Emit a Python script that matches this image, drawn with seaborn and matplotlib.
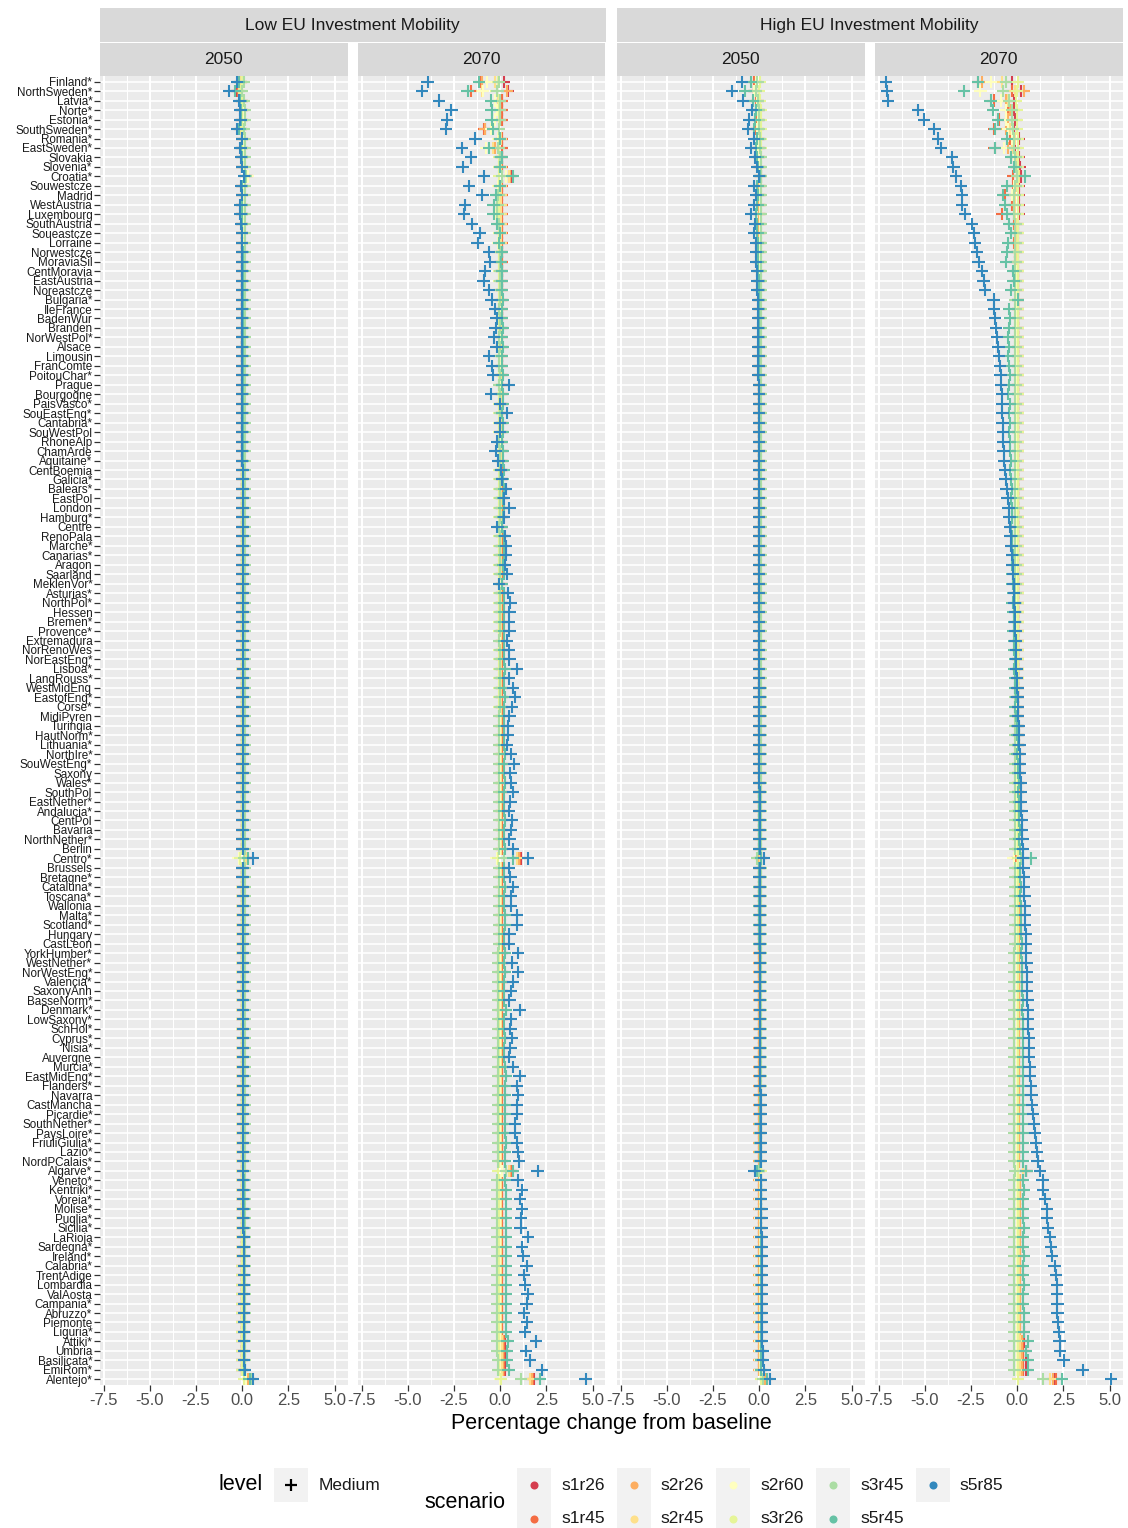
import numpy as np
import pandas as pd
import matplotlib
matplotlib.use("Agg")
import matplotlib.pyplot as plt
import seaborn as sns
from matplotlib.patches import Rectangle
from matplotlib.lines import Line2D

plt.rcParams['font.family'] = ['Liberation Sans', 'DejaVu Sans']

# ---------------- data ----------------
REGIONS = [
    "Finland*", "NorthSweden*", "Latvia*", "Norte*", "Estonia*", "SouthSweden*", "Romania*", "EastSweden*",
    "Slovakia", "Slovenia*", "Croatia*", "Souwestcze", "Madrid", "WestAustria", "Luxembourg", "SouthAustria",
    "Soueastcze", "Lorraine", "Norwestcze", "MoraviaSil", "CentMoravia", "EastAustria", "Noreastcze",
    "Bulgaria*", "IleFrance", "BadenWur", "Branden", "NorWestPol*", "Alsace", "Limousin", "FranComte",
    "PoitouChar*", "Prague", "Bourgogne", "PaisVasco*", "SouEastEng*", "Cantabria*", "SouWestPol", "RhoneAlp",
    "ChamArde", "Aquitaine*", "CentBoemia", "Galicia*", "Balears*", "EastPol", "London", "Hamburg*", "Centre",
    "RenoPala", "Marche*", "Canarias*", "Aragon", "Saarland", "MeklenVor*", "Asturias*", "NorthPol*", "Hessen",
    "Bremen*", "Provence*", "Extremadura", "NorRenoWes", "NorEastEng*", "Lisboa*", "LangRouss*", "WestMidEng",
    "EastofEng*", "Corse*", "MidiPyren", "Turingia", "HautNorm*", "Lithuania*", "NorthIre*", "SouWestEng*",
    "Saxony", "Wales*", "SouthPol", "EastNether*", "Andalucia*", "CentPol", "Bavaria", "NorthNether*", "Berlin",
    "Centro*", "Brussels", "Bretagne*", "Cataluna*", "Toscana*", "Wallonia", "Malta*", "Scotland*", "Hungary",
    "CastLeon", "YorkHumber*", "WestNether*", "NorWestEng*", "Valencia*", "SaxonyAnh", "BasseNorm*",
    "Denmark*", "LowSaxony*", "SchHol*", "Cyprus*", "Nisia*", "Auvergne", "Murcia*", "EastMidEng*",
    "Flanders*", "Navarra", "CastMancha", "Picardie*", "SouthNether*", "PaysLoire*", "FriuliGiulia*", "Lazio*",
    "NordPCalais*", "Algarve*", "Veneto*", "Kentriki*", "Voreia*", "Molise*", "Puglia*", "Sicilia*", "LaRioja",
    "Sardegna*", "Ireland*", "Calabria*", "TrentAdige", "Lombardia", "ValAosta", "Campania*", "Abruzzo*",
    "Piemonte", "Liguria*", "Attiki*", "Umbria", "Basilicata*", "EmiRom*", "Alentejo*",
]

SCENARIOS = ["s1r26", "s1r45", "s2r26", "s2r45", "s2r60", "s3r26", "s3r45", "s5r45", "s5r85"]
COLORS = ["#D53E4F", "#F46D43", "#FDAE61", "#FEE08B", "#FFFFBF", "#E6F598", "#ABDDA4", "#66C2A5", "#3288BD"]
MOBILITY = ["Low EU Investment Mobility", "High EU Investment Mobility"]
YEARS = ["2050", "2070"]
X_TICKS = [-7.5, -5.0, -2.5, 0.0, 2.5, 5.0]

# values: percentage change from baseline, one entry per region (rows of 23)
# ---- Low mobility, 2050 ----
L50_s1r26 = """
-.1 -.3 0 0 0 -.1 0 0 0 0 .2 0 0 0 0 0 0 0 0 0 0 0 0
0 0 0 0 0 0 0 0 0 0 0 0 0 0 0 0 0 0 0 0 0 0 0
0 0 0 0 0 0 0 0 0 0 0 0 0 0 0 0 0 0 0 0 0 0 0
0 0 0 0 0 0 0 0 0 0 0 0 0 .2 0 0 0 0 0 0 0 0 0
0 0 0 0 0 0 0 0 0 0 0 0 0 0 0 0 0 0 0 0 0 0 0
0 0 0 0 0 0 0 0 0 0 0 0 0 0 0 0 0 0 0 0 0 0 .3
"""
L50_s1r45 = """
-.1 -.25 0 0 0 -.1 0 0 0 0 .25 0 0 0 0 0 0 0 0 0 0 0 0
0 0 0 0 0 0 0 0 0 0 0 0 0 0 0 0 0 0 0 0 0 0 0
0 0 0 0 0 0 0 0 0 0 0 0 0 0 0 0 0 0 0 0 0 0 0
0 0 0 0 0 0 0 0 0 0 0 0 0 .25 0 0 0 0 0 0 0 0 0
0 0 0 0 0 0 0 0 0 0 0 0 0 0 0 0 0 0 0 0 0 0 0
0 0 0 0 0 0 0 0 0 0 0 0 0 0 0 0 0 0 0 0 0 0 .35
"""
L50_s2r26 = """
-.05 -.2 0 0 0 -.05 0 0 0 0 .25 0 0 0 0 0 0 0 0 0 0 0 0
0 0 0 0 0 0 0 0 0 0 0 0 0 0 0 0 0 0 0 0 0 0 0
0 0 0 0 0 0 0 0 0 0 0 0 0 0 0 0 0 0 0 0 0 0 0
0 0 0 0 0 0 0 0 0 0 0 0 0 .15 0 0 0 0 0 0 0 0 0
0 0 0 0 0 0 0 0 0 0 0 0 0 0 0 0 0 0 0 0 0 0 0
0 0 0 0 0 0 0 0 0 0 0 0 0 0 0 0 0 0 0 0 0 0 .3
"""
L50_s2r45 = """
-.05 -.2 0 .05 .05 -.05 .05 .05 .05 .05 .3 .05 .05 .05 .05 .05 .05 .05 .05 .05 .05 .05 .05
.05 .05 .05 .05 .05 .05 .05 .05 .05 .05 .05 .05 .05 .05 .05 .05 .05 .05 .05 .05 .05 .05 .05
.05 .05 .05 .05 .05 .05 .05 .05 .05 .05 .05 .05 .05 .05 .05 .05 .05 .05 .05 .05 .05 .05 .05
.05 .05 .05 .05 .05 .05 .05 .05 .05 .05 .05 .05 .05 .2 .05 .05 .05 .05 .05 .05 .05 .05 .05
.05 .05 .05 .05 .05 .05 .05 .05 .05 .05 .05 .05 .05 .05 .05 .05 .05 .05 .05 .05 .05 .05 .05
.05 .05 .05 .05 .05 .05 .05 .05 .05 .05 .05 .05 .05 .05 .05 .05 .05 .05 .05 .05 .05 .05 .4
"""
L50_s2r60 = """
0 -.1 .05 .1 .1 0 .1 .1 .1 .1 .3 .1 .1 .1 .1 .1 .1 .1 .1 .1 .1 .1 .1
.1 .1 .1 .1 .1 .1 .1 .1 .1 .1 .1 .1 .1 .1 .1 .1 .1 .1 .1 .1 .1 .1 .1
.1 .1 .1 .1 .1 .1 .1 .1 .1 .1 .1 .1 .1 .1 .1 .1 .1 .1 .1 .1 .1 .1 .1
.1 .1 .1 .1 .1 .1 .1 .1 .1 .1 .1 .1 .1 -.2 .1 .1 .1 .1 .1 .1 .1 .1 .1
.1 .1 .1 .1 .1 .1 .1 .1 .1 .1 .1 .1 .1 .1 .1 .1 .1 .1 .1 .1 .1 .1 .1
.1 .1 .1 .1 .1 .1 .1 .1 .1 .1 .1 .1 .1 .1 .1 .1 .1 .1 .1 .1 .1 .1 .2
"""
L50_s3r26 = """
0 -.1 0 0 0 0 0 0 0 0 .1 0 0 0 0 0 0 0 0 0 0 0 0
0 0 0 0 0 0 0 0 0 0 0 0 0 0 0 0 0 0 0 0 0 0 0
0 0 0 0 0 0 0 0 0 0 0 0 0 0 0 0 0 0 0 0 0 0 0
0 0 0 0 0 0 0 0 0 0 0 0 0 -.1 0 0 0 0 0 0 0 0 0
0 0 0 0 0 0 0 0 0 0 0 0 0 0 0 0 0 0 0 0 0 0 0
0 0 0 0 0 0 0 0 0 0 0 0 0 0 0 0 0 0 0 0 0 0 .1
"""
L50_s3r45 = """
.1 0 .1 .15 .15 .1 .15 .15 .15 .15 .2 .15 .15 .15 .15 .15 .15 .15 .15 .15 .15 .15 .15
.15 .15 .15 .15 .15 .15 .15 .15 .15 .15 .15 .15 .15 .15 .15 .15 .15 .15 .15 .15 .15 .15 .15
.15 .15 .15 .15 .15 .15 .15 .15 .15 .15 .15 .15 .15 .15 .15 .15 .15 .15 .15 .15 .15 .15 .15
.15 .15 .15 .15 .15 .15 .15 .15 .15 .15 .15 .15 .15 .1 .15 .15 .15 .15 .15 .15 .15 .15 .15
.15 .15 .15 .15 .15 .15 .15 .15 .15 .15 .15 .15 .15 .15 .15 .15 .15 .15 .15 .15 .15 .15 .15
.15 .15 .15 .15 .15 .15 .15 .15 .15 .15 .15 .15 .15 .15 .15 .15 .15 .15 .15 .15 .15 .15 .45
"""
L50_s5r45 = """
-.2 -.4 -.1 -.05 -.05 -.15 0 -.05 0 0 .15 0 0 0 0 0 0 0 .05 .05 .05 .05 .05
.05 .05 .05 .05 .05 .05 .05 .05 .05 .05 .05 .05 .05 .05 .05 .05 .05 .05 .05 .05 .05 .05 .05
.05 .05 .05 .05 .05 .05 .05 .05 .05 .05 .05 .05 .05 .05 .05 .05 .05 .05 .05 .05 .05 .05 .05
.05 .05 .05 .05 .05 .05 .05 .05 .05 .05 .05 .05 .05 .3 .05 .05 .05 .05 .05 .05 .05 .05 .05
.05 .05 .05 .05 .05 .05 .05 .05 .05 .05 .05 .05 .05 .05 .05 .05 .05 .05 .05 .05 .05 .05 .05
.05 .1 .1 .1 .1 .1 .1 .1 .1 .1 .1 .1 .1 .1 .1 .1 .1 .1 .1 .1 .1 .1 .4
"""
L50_s5r85 = """
-.3 -.7 -.15 -.1 -.1 -.3 0 -.1 -.05 0 .1 -.05 0 -.1 -.1 -.05 0 0 0 0 0 0 0
0 0 0 0 0 0 0 0 0 0 0 0 0 0 0 0 0 0 .02 .02 .02 .02 .02
.02 .02 .02 .02 .02 .02 .02 .02 .02 .02 .02 .02 .02 .02 .02 .02 .03 .02 .02 .02 .02 .02 .02
.02 .02 .02 .02 .02 .02 .02 .02 .02 .02 .02 .02 .02 .6 .02 .02 .03 .03 .03 .03 .03 .03 .03
.03 .03 .03 .03 .03 .03 .03 .03 .03 .03 .03 .03 .03 .04 .04 .04 .04 .04 .04 .04 .04 .05 .05
.05 .05 .05 .06 .06 .06 .06 .07 .07 .07 .08 .08 .08 .08 .08 .09 .09 .09 .1 .1 .11 .15 .6
"""

# ---- Low mobility, 2070 ----
L70_s1r26 = """
.2 .4 .1 .1 .1 -.85 .1 .1 .1 .1 .6 .1 .1 .1 .1 .1 .1 .1 .1 .1 .1 .1 .1
.1 .1 .1 .1 .1 .1 .1 .1 .1 .1 .1 .1 .1 .1 .1 .1 .1 .1 .1 .1 .1 .1 .1
.1 .1 .1 .1 .1 .1 .1 .1 .1 .1 .1 .1 .1 .1 .1 .1 .1 .1 .1 .1 .1 .1 .1
.1 .1 .1 .1 .1 .1 .1 .1 .1 .1 .1 .1 .1 1.1 .1 .1 .1 .1 .1 .1 .1 .1 .1
.1 .1 .1 .1 .1 .1 .1 .1 .1 .1 .1 .1 .1 .1 .1 .1 .1 .1 .1 .1 .1 .1 .1
.62 .1 .1 .1 .1 .1 .1 .1 .1 .1 .1 .1 .1 .1 .1 .1 .1 .1 .25 .25 .25 .25 1.85
"""
L70_s1r45 = """
-1.05 -1.6 .1 .1 .1 -.87 .1 .1 .1 .1 .5 .1 .1 .1 .1 .1 .1 .1 .1 .1 .1 .1 .1
.1 .1 .1 .1 .1 .1 .1 .1 .1 .1 .1 .1 .1 .1 .1 .1 .1 .1 .1 .1 .1 .1 .1
.1 .1 .1 .1 .1 .1 .1 .1 .1 .1 .1 .1 .1 .1 .1 .1 .1 .1 .1 .1 .1 .1 .1
.1 .1 .1 .1 .1 .1 .1 .1 .1 .1 .1 .1 .1 1.05 .1 .1 .1 .1 .1 .1 .1 .1 .1
.1 .1 .1 .1 .1 .1 .1 .1 .1 .1 .1 .1 .1 .1 .1 .1 .1 .1 .1 .1 .1 .1 .1
.6 .1 .1 .1 .1 .1 .1 .1 .1 .1 .1 .1 .1 .1 .1 .1 .1 .1 .2 .2 .2 .2 1.8
"""
L70_s2r26 = """
-1.0 .35 0 0 0 -.8 .05 -.3 .05 .05 .55 .05 .05 .05 .05 .05 .05 .05 .05 .05 .05 .05 .05
.05 .05 .05 .05 .05 .05 .05 .05 .05 .05 .05 .05 .05 .05 .05 .05 .05 .05 .05 .05 .05 .05 .05
.05 .05 .05 .05 .05 .05 .05 .05 .05 .05 .05 .05 .05 .05 .05 .05 .05 .05 .05 .05 .05 .05 .05
.05 .05 .05 .05 .05 .05 .05 .05 .05 .05 .05 .05 .05 1.0 .05 .05 .05 .05 .05 .05 .05 .05 .05
.05 .05 .05 .05 .05 .05 .05 .05 .05 .05 .05 .05 .05 .05 .05 .05 .05 .05 .05 .05 .05 .05 .05
.55 .05 .05 .05 .05 .05 .05 .05 .05 .05 .05 .05 .05 .05 .05 .05 .05 .05 .15 .15 .15 .15 1.7
"""
L70_s2r45 = """
-.3 -1.0 -.1 0 0 -.4 .05 -.4 .05 .05 .5 .05 .05 .05 .05 .05 .05 .05 .05 .05 .05 .05 .05
.05 .05 .05 .05 .05 .05 .05 .05 .05 .05 .05 .05 .05 .05 .05 .05 .05 .05 .05 .05 .05 .05 .05
.05 .05 .05 .05 .05 .05 .05 .05 .05 .05 .05 .05 .05 .05 .05 .05 .05 .05 .05 .05 .05 .05 .05
.05 .05 .05 .05 .05 .05 .05 .05 .05 .05 .05 .05 .05 .9 .05 .05 .05 .05 .05 .05 .05 .05 .05
.05 .05 .05 .05 .05 .05 .05 .05 .05 .05 .05 .05 .05 .05 .05 .05 .05 .05 .05 .05 .05 .05 .05
.45 .05 .05 .05 .05 .05 .05 .05 .05 .05 .05 .05 .05 .05 .05 .05 .05 .05 .1 .1 .1 .1 1.6
"""
L70_s2r60 = """
-.7 -.95 -.3 -.2 -.3 -.5 -.1 -.75 0 -.05 .3 -.1 -.2 -.2 -.3 -.1 -.05 -.1 0 0 0 0 0
0 0 0 0 0 0 0 0 0 0 0 0 0 0 0 0 0 0 0 0 0 0 0
0 0 0 0 0 0 0 0 0 0 0 0 0 0 0 0 0 0 0 0 0 0 0
0 0 0 0 0 0 0 0 0 0 0 0 0 -.2 0 0 0 0 0 0 0 0 0
0 0 0 0 0 0 0 0 0 0 0 0 0 0 0 0 0 0 0 0 0 0 0
.1 0 0 0 0 0 0 0 0 0 0 0 0 0 0 0 0 0 0 0 0 0 0
"""
L70_s3r26 = """
-.1 -.2 -.05 -.05 -.05 -.05 -.05 -.05 -.05 -.05 -.05 -.05 -.05 -.05 -.05 -.05 -.05 -.05 -.05 -.05 -.05 -.05 -.05
-.05 -.05 -.05 -.05 -.05 -.05 -.05 -.05 -.05 -.05 -.05 -.05 -.05 -.05 -.05 -.05 -.05 -.05 -.05 -.05 -.05 -.05 -.05
-.05 -.05 -.05 -.05 -.05 -.05 -.05 -.05 -.05 -.05 -.05 -.05 -.05 -.05 -.05 -.05 -.05 -.05 -.05 -.05 -.05 -.05 -.05
-.05 -.05 -.05 -.05 -.05 -.05 -.05 -.05 -.05 -.05 -.05 -.05 -.05 -.1 -.05 -.05 -.05 -.05 -.05 -.05 -.05 -.05 -.05
-.05 -.05 -.05 -.05 -.05 -.05 -.05 -.05 -.05 -.05 -.05 -.05 -.05 -.05 -.05 -.05 -.05 -.05 -.05 -.05 -.05 -.05 -.05
-.1 -.05 -.05 -.05 -.05 -.05 -.05 -.05 -.05 -.05 -.05 -.05 -.05 -.05 -.05 -.05 -.05 -.05 -.05 -.05 -.05 -.05 .05
"""
L70_s3r45 = """
-.05 -.15 0 0 0 -.05 0 -.1 0 0 .1 0 -.1 -.15 -.15 -.05 0 -.05 0 0 0 0 0
0 -.05 0 0 -.05 0 -.05 -.05 0 -.05 0 0 0 0 0 -.05 0 0 0 0 0 0 0
0 -.05 0 0 0 0 0 -.05 0 0 0 0 0 -.05 0 0 0 0 0 0 0 -.05 -.05
-.05 -.05 -.05 -.05 -.05 -.05 -.05 -.05 -.05 -.05 -.05 -.05 -.05 .2 -.05 -.05 -.05 -.05 -.05 -.05 -.05 -.05 -.05
-.1 -.1 -.1 -.1 -.1 -.1 -.1 -.1 -.1 -.1 -.1 -.1 -.1 -.1 -.1 -.1 -.1 -.1 -.1 -.1 -.1 -.1 -.1
.3 -.15 -.15 -.15 -.15 -.15 -.15 -.15 -.15 -.15 -.15 -.15 -.15 -.15 -.15 -.15 -.15 -.15 -.15 -.15 -.1 -.1 1.12
"""
L70_s5r45 = """
-1.14 -1.77 -.5 -.47 -.47 -.4 0 -.6 .07 0 .67 0 -.23 -.36 -.36 -.15 0 -.05 .1 .05 .1 .1 .1
.15 .1 .1 .15 .1 .15 .1 .1 .15 .1 .15 .15 .1 .15 .15 .1 .15 .15 .2 .15 .2 .15 .2
.15 .1 .2 .2 .2 .15 .2 .1 .2 .2 .2 .2 .2 .2 .2 .2 .25 .2 .2 .25 .2 .2 .2
.2 .2 .25 .2 .2 .25 .2 .2 .2 .25 .2 .2 .25 .7 .2 .2 .25 .2 .2 .25 .25 .2 .2
.25 .2 .25 .2 .2 .2 .3 .2 .2 .25 .2 .2 .25 .3 .25 .25 .25 .25 .25 .25 .3 .25 .25
.7 .25 .3 .3 .3 .3 .3 .3 .3 .3 .3 .3 .3 .3 .3 .3 .3 .3 .4 .35 .35 .45 2.17
"""
L70_s5r85 = """
-3.93 -4.24 -3.30 -2.64 -2.89 -2.92 -1.34 -2.06 -1.57 -2.04 -0.87 -1.70 -0.96 -1.91 -1.95 -1.53 -1.12 -1.23 -0.60 -0.56 -0.83 -0.90 -0.60
-0.47 -0.30 -0.20 -0.25 -0.35 -0.20 -0.60 -0.45 -0.40 0.45 -0.50 0.00 0.35 0.00 0.00 -0.15 -0.25 -0.10 0.05 0.10 0.30 0.20 0.50
0.20 -0.15 0.25 0.30 0.30 0.25 0.35 -0.05 0.40 0.55 0.50 0.45 0.50 0.35 0.45 0.50 0.90 0.45 0.70 0.80 0.65 0.50 0.40
0.40 0.35 0.60 0.75 0.55 0.60 0.70 0.55 0.45 0.65 0.60 0.50 0.70 1.50 0.45 0.55 0.70 0.60 0.60 0.90 0.90 0.50 0.45
0.95 0.65 0.95 0.70 0.60 0.50 1.05 0.60 0.55 0.65 0.55 0.50 0.70 1.05 0.90 0.95 0.90 0.90 0.80 0.80 0.90 0.97 1.01
2.02 0.94 1.16 1.08 1.16 1.14 1.10 1.50 1.19 1.26 1.43 1.28 1.34 1.48 1.43 1.30 1.46 1.35 1.93 1.41 1.61 2.26 4.62
"""

# ---- High mobility, 2050 ----
H50_s1r26 = """
-.2 -.3 -.1 0 0 -.1 0 0 0 .05 .1 .05 .05 .05 .05 .05 .05 .05 .05 .05 .05 .05 .05
.05 .05 .05 .05 .05 .05 .05 .05 .05 .05 .05 .05 .05 .05 .05 .05 .05 .05 .05 .05 .05 .05 .05
.05 .05 .05 .05 .05 .05 .05 .05 .05 .05 .05 .05 .05 .05 .05 .05 .05 .05 .05 .05 .05 .05 .05
.05 .05 .05 .05 .05 .05 .05 .05 .05 .05 .05 .05 .05 .1 .05 .05 .05 .05 .05 .05 .05 .05 .05
.05 .05 .05 .05 .05 .05 .05 .05 .05 .05 .05 .05 .05 .05 .05 .05 .05 .05 .05 .05 .05 .05 .05
0 .05 .05 .05 .05 .05 .05 .05 .05 .05 .05 .05 .05 .05 .05 .05 .05 .05 .05 .05 .05 .05 .3
"""
H50_s1r45 = """
-.3 -.27 -.2 -.1 -.1 -.2 -.05 -.1 0 0 .05 0 0 0 0 0 0 0 0 0 0 0 0
0 0 0 0 0 0 0 0 0 0 0 0 0 0 0 0 0 0 0 0 0 0 0
0 0 0 0 0 0 0 0 0 0 0 0 0 0 0 0 0 0 0 0 0 0 0
0 0 0 0 0 0 0 0 0 0 0 0 0 .05 0 0 0 0 0 0 0 0 0
0 0 0 0 0 0 0 0 0 0 0 0 0 0 0 0 0 0 0 0 0 0 0
0 0 0 0 0 0 0 0 0 0 0 0 0 0 0 0 0 0 0 0 0 0 .35
"""
H50_s2r26 = """
-.2 -.2 -.1 0 -.05 -.1 0 0 0 0 .05 0 0 0 0 0 0 0 0 0 0 0 0
0 0 0 0 0 0 0 0 0 0 0 0 0 0 0 0 0 0 0 0 0 0 0
0 0 0 0 0 0 0 0 0 0 0 0 0 0 0 0 0 0 0 0 0 0 0
0 0 0 0 0 0 0 0 0 0 0 0 0 0 0 0 0 0 0 0 0 0 0
0 0 0 0 0 0 0 0 0 0 0 0 0 0 0 0 0 0 0 0 0 0 0
0 0 0 0 0 0 0 0 0 0 0 0 0 0 0 0 0 0 0 0 0 0 .3
"""
H50_s2r45 = """
-.15 -.2 -.05 0 0 -.05 .05 .05 .05 .05 .05 .05 .05 .05 .05 .05 .05 .05 .05 .05 .05 .05 .05
.05 .05 .05 .05 .05 .05 .05 .05 .05 .05 .05 .05 .05 .05 .05 .05 .05 .05 .05 .05 .05 .05 .05
.05 .05 .05 .05 .05 .05 .05 .05 .05 .05 .05 .05 .05 .05 .05 .05 .05 .05 .05 .05 .05 .05 .05
.05 .05 .05 .05 .05 .05 .05 .05 .05 .05 .05 .05 .05 .05 .05 .05 .05 .05 .05 .05 .05 .05 .05
.05 .05 .05 .05 .05 .05 .05 .05 .05 .05 .05 .05 .05 .05 .05 .05 .05 .05 .05 .05 .05 .05 .05
.05 .05 .05 .05 .05 .05 .05 .05 .05 .05 .05 .05 .05 .05 .05 .05 .05 .05 .05 .05 .05 .05 .4
"""
H50_s2r60 = """
-.2 -.3 -.1 -.05 -.05 -.1 0 -.05 0 .05 .1 .05 .05 .05 .05 .05 .05 .05 .05 .05 .05 .05 .05
.05 .05 .05 .05 .05 .05 .05 .05 .05 .05 .05 .05 .05 .05 .05 .05 .05 .05 .05 .05 .05 .05 .05
.05 .05 .05 .05 .05 .05 .05 .05 .05 .05 .05 .05 .05 .05 .05 .05 .05 .05 .05 .05 .05 .05 .05
.05 .05 .05 .05 .05 .05 .05 .05 .05 .05 .05 .05 .05 -.1 .05 .05 .05 .05 .05 .05 .05 .05 .05
.05 .05 .05 .05 .05 .05 .05 .05 .05 .05 .05 .05 .05 .05 .05 .05 .05 .05 .05 .05 .05 .05 .05
.05 .05 .05 .05 .05 .05 .05 .05 .05 .05 .05 .05 .05 .05 .05 .05 .05 .05 .05 .05 .05 .05 .1
"""
H50_s3r26 = """
.05 0 .05 .1 .1 .1 .1 .1 .1 .1 .1 .1 .1 .1 .1 .1 .1 .1 .1 .1 .1 .1 .1
.1 .1 .1 .1 .1 .1 .1 .1 .1 .1 .1 .1 .1 .1 .1 .1 .1 .1 .1 .1 .1 .1 .1
.1 .1 .1 .1 .1 .1 .1 .1 .1 .1 .1 .1 .1 .1 .1 .1 .1 .1 .1 .1 .1 .1 .1
.1 .1 .1 .1 .1 .1 .1 .1 .1 .1 .1 .1 .1 .1 .1 .1 .1 .1 .1 .1 .1 .1 .1
.1 .1 .1 .1 .1 .1 .1 .1 .1 .1 .1 .1 .1 .1 .1 .1 .1 .1 .1 .1 .1 .1 .1
.1 .1 .1 .1 .1 .1 .1 .1 .1 .1 .1 .1 .1 .1 .1 .1 .1 .1 .1 .1 .1 .1 .1
"""
H50_s3r45 = """
-.1 -.2 -.05 0 0 0 .05 .05 .1 .1 .1 .1 .1 .1 .1 .1 .1 .1 .1 .1 .1 .1 .1
.1 .1 .1 .1 .1 .1 .1 .1 .1 .1 .1 .1 .1 .1 .1 .1 .1 .1 .1 .1 .1 .1 .1
.1 .1 .1 .1 .1 .1 .1 .1 .1 .1 .1 .1 .1 .1 .1 .1 .1 .1 .1 .1 .1 .1 .1
.1 .1 .1 .1 .1 .1 .1 .1 .1 .1 .1 .1 .1 -.1 .1 .1 .1 .1 .1 .1 .1 .1 .1
.1 .1 .1 .1 .1 .1 .1 .1 .1 .1 .1 .1 .1 .1 .1 .1 .1 .1 .1 .1 .1 .1 .1
0 .1 .1 .1 .1 .1 .1 .1 .1 .1 .1 .1 .1 .1 .1 .1 .1 .1 .1 .1 .1 .1 .2
"""
H50_s5r45 = """
-.45 -.75 -.35 -.2 -.25 -.3 -.1 -.2 -.1 -.05 .05 -.1 -.05 -.1 -.2 -.1 -.1 -.05 -.05 -.05 -.05 0 0
0 0 0 0 0 0 0 0 0 0 0 0 0 0 0 0 0 0 0 0 0 0 0
0 0 0 0 0 0 0 0 0 0 0 0 0 0 0 0 0 0 0 0 0 0 0
0 0 0 0 0 0 0 0 0 0 0 0 0 .1 0 0 0 0 0 0 0 0 0
.05 .05 .05 .05 .05 .05 .05 .05 .05 .05 .05 .05 .05 .05 .05 .05 .05 .05 .05 .05 .05 .05 .05
-.1 .1 .1 .1 .1 .1 .1 .1 .1 .1 .1 .1 .1 .1 .1 .1 .1 .1 .1 .1 .1 .1 .4
"""
H50_s5r85 = """
-0.95 -1.46 -0.86 -0.40 -0.57 -0.62 -0.27 -0.45 -0.23 -0.14 0.00 -0.29 -0.18 -0.30 -0.45 -0.21 -0.27 -0.18 -0.18 -0.18 -0.14 -0.10 -0.10
-0.08 -0.06 -0.06 -0.05 -0.05 -0.04 -0.04 -0.04 -0.04 -0.03 -0.03 -0.03 -0.03 -0.03 -0.03 -0.02 -0.02 -0.02 -0.02 -0.02 -0.01 -0.01 -0.01
-0.01 -0.01 -0.01 0.00 0.00 0.00 0.00 0.00 0.00 0.00 0.00 0.00 0.00 0.00 0.00 0.00 0.00 0.00 0.01 0.01 0.01 0.01 0.01
0.01 0.01 0.01 0.01 0.01 0.01 0.02 0.02 0.02 0.02 0.02 0.02 0.02 0.25 0.02 0.02 0.03 0.03 0.03 0.03 0.03 0.03 0.03
0.04 0.04 0.04 0.04 0.04 0.04 0.04 0.05 0.05 0.05 0.05 0.05 0.06 0.06 0.06 0.07 0.07 0.07 0.08 0.08 0.08 0.09 0.09
-0.25 0.10 0.10 0.11 0.12 0.12 0.12 0.13 0.13 0.14 0.14 0.15 0.15 0.15 0.16 0.16 0.16 0.17 0.17 0.18 0.20 0.28 0.60
"""

# ---- High mobility, 2070 ----
H70_s1r26 = """
-.3 .2 -.2 -.2 -.1 -.2 .1 -.1 .1 .15 .2 .1 .1 .1 .1 .05 .05 .05 .05 .05 .05 .05 .05
.05 .05 .05 .05 .05 .05 .05 .05 .05 .05 .05 .05 .05 .05 .05 .05 .05 .05 .05 .05 .05 .05 .05
.05 .05 .05 .05 .05 .05 .05 .05 .05 .05 .05 .05 .05 .05 .05 .05 .05 .05 .05 .05 .05 .05 .05
.05 .05 .05 .05 .05 .05 .05 .05 .05 .05 .05 .05 .05 0 .05 .05 .05 .05 .05 .05 .05 .05 .05
.1 .1 .1 .1 .1 .1 .1 .1 .1 .1 .1 .1 .1 .1 .1 .1 .1 .1 .1 .1 .1 .1 .1
.5 .15 .15 .15 .15 .15 .15 .15 .15 .15 .15 .15 .15 .15 .15 .15 .15 .35 .35 .45 .45 .45 2.0
"""
H70_s1r45 = """
-2.1 -.3 -1.28 -.5 -1.0 -1.26 -.4 -1.23 -.2 -.1 -.23 -.25 -.65 -.3 -.8 -.2 -.1 -.2 -.1 -.1 0 0 0
.05 .05 .05 .05 .05 .05 .05 .05 .05 .05 .05 .05 .05 .05 .05 .05 .05 .05 .05 .05 .05 .05 .05
.05 .05 .05 .05 .05 .05 .05 .05 .05 .05 .05 .05 .05 .05 .05 .05 .05 .05 .05 .05 .05 .05 .05
.05 .05 .05 .05 .05 .05 .05 .05 .05 .05 .05 .05 .05 -.1 .05 .05 .05 .05 .05 .05 .05 .05 .05
.05 .05 .05 .05 .05 .05 .05 .05 .05 .05 .05 .05 .05 .05 .05 .05 .05 .05 .05 .05 .05 .05 .05
.5 .1 .1 .1 .1 .1 .1 .1 .1 .1 .1 .1 .1 .1 .1 .1 .1 .1 .3 .3 .3 .3 2.11
"""
H70_s2r26 = """
-1.9 .36 -.6 -.4 -.5 -.6 -.2 -.5 -.1 0 .1 -.1 -.2 -.1 -.2 0 0 0 0 0 .05 .05 .05
.05 .05 .05 .05 .05 .05 .05 .05 .05 .05 .05 .05 .05 .05 .05 .05 .05 .05 .05 .05 .05 .05 .05
.05 .05 .05 .05 .05 .05 .05 .05 .05 .05 .05 .05 .05 .05 .05 .05 .05 .05 .05 .05 .05 .05 .05
.1 .1 .1 .1 .1 .1 .1 .1 .1 .1 .1 .1 .1 0 .1 .1 .1 .1 .1 .1 .1 .1 .1
.1 .1 .1 .1 .1 .1 .1 .1 .1 .1 .1 .1 .1 .1 .1 .1 .1 .1 .1 .1 .1 .1 .1
.45 .15 .15 .15 .15 .15 .15 .15 .15 .15 .15 .15 .15 .15 .15 .15 .15 .15 .25 .25 .25 .25 1.95
"""
H70_s2r45 = """
-.8 -.1 -.5 -.3 -.3 -.4 -.1 -.3 0 0 .1 0 -.1 -.1 -.1 0 0 0 0 0 0 0 0
.05 .05 .05 .05 .05 .05 .05 .05 .05 .05 .05 .05 .05 .05 .05 .05 .05 .05 .05 .05 .05 .05 .05
.05 .05 .05 .05 .05 .05 .05 .05 .05 .05 .05 .05 .05 .05 .05 .05 .05 .05 .05 .05 .05 .05 .05
.05 .05 .05 .05 .05 .05 .05 .05 .05 .05 .05 .05 .05 .05 .05 .05 .05 .05 .05 .05 .05 .05 .05
.05 .05 .05 .05 .05 .05 .05 .05 .05 .05 .05 .05 .05 .05 .05 .05 .05 .05 .05 .05 .05 .05 .05
.3 .1 .1 .1 .1 .1 .1 .1 .1 .1 .1 .1 .1 .1 .1 .1 .1 .1 .15 .15 .15 .15 1.79
"""
H70_s2r60 = """
-1.41 -1.99 -.9 -.6 -.6 -.5 -.3 -.7 -.2 -.1 0 -.2 -.3 -.2 -.2 -.1 -.1 -.1 -.1 -.1 0 0 0
0 0 0 0 0 0 0 0 0 0 0 0 0 0 0 0 0 0 0 0 0 0 0
0 0 0 0 0 0 0 0 0 0 0 0 0 0 0 0 0 0 0 0 0 0 0
0 0 0 0 0 0 0 0 0 0 0 0 0 -.2 0 0 0 0 0 0 0 0 0
0 0 0 0 0 0 0 0 0 0 0 0 0 0 0 0 0 0 0 0 0 0 0
0 0 0 0 0 0 0 0 0 0 0 0 0 0 0 0 0 0 0 0 0 0 .05
"""
H70_s3r26 = """
.03 0 -.05 0 0 0 .05 .05 .05 .05 .05 .05 .05 .05 .05 .05 .05 .05 .05 .05 .05 .05 .05
.05 .05 .05 .05 .05 .05 .05 .05 .05 .05 .05 .05 .05 .05 .05 .05 .05 .05 .05 .05 .05 .05 .05
.05 .05 .05 .05 .05 .05 .05 .05 .05 .05 .05 .05 .05 .05 .05 .05 .05 .05 .05 .05 .05 .05 .05
.05 .05 .05 .05 .05 .05 .05 .05 .05 .05 .05 .05 .05 .05 .05 .05 .05 .05 .05 .05 .05 .05 .05
.05 .05 .05 .05 .05 .05 .05 .05 .05 .05 .05 .05 .05 .05 .05 .05 .05 .05 .05 .05 .05 .05 .05
.05 .05 .05 .05 .05 .05 .05 .05 .05 .05 .05 .05 .05 .05 .05 .05 .05 .05 .05 .05 .05 .05 .05
"""
H70_s3r45 = """
-.6 -.78 -.42 -.3 -.3 -.25 -.15 -.2 -.1 -.05 0 -.1 -.15 -.15 -.15 -.1 -.1 -.1 -.1 -.1 -.1 -.1 -.1
-.1 -.1 -.1 -.1 -.1 -.1 -.1 -.1 -.1 -.1 -.1 -.1 -.1 -.1 -.1 -.1 -.1 -.1 -.1 -.1 -.1 -.1 -.1
-.1 -.1 -.1 -.1 -.1 -.1 -.1 -.1 -.1 -.1 -.1 -.1 -.1 -.1 -.1 -.1 -.1 -.1 -.1 -.1 -.1 -.1 -.1
-.1 -.1 -.1 -.1 -.1 -.1 -.1 -.1 -.1 -.1 -.1 -.1 -.1 .2 -.1 -.1 -.1 -.1 -.1 -.1 -.1 -.1 -.1
-.15 -.15 -.15 -.15 -.15 -.15 -.15 -.15 -.15 -.15 -.15 -.15 -.15 -.15 -.15 -.15 -.15 -.15 -.15 -.15 -.15 -.15 -.15
-.1 -.15 -.15 -.15 -.15 -.15 -.15 -.15 -.15 -.15 -.15 -.15 -.15 -.15 -.15 -.15 -.15 -.15 -.15 -.15 -.15 -.15 1.39
"""
H70_s5r45 = """
-2.13 -2.89 -1.44 -1.32 -1.05 -1.19 -.54 -1.19 -.32 -.18 .43 -.56 -.78 -.65 -.54 -.45 -.32 -.5 -.56 -.6 -.23 -.2 -.32
.03 -.45 -.4 -.45 -.5 -.45 -.5 -.45 -.4 -.45 -.5 -.4 -.45 -.4 -.45 -.4 -.4 -.35 -.4 -.35 -.3 -.35 -.3
-.3 -.35 -.3 -.3 -.25 -.3 -.25 -.25 -.2 -.25 -.2 -.15 -.2 -.15 -.15 -.1 -.15 -.1 -.1 -.05 -.1 -.05 0
0 .05 0 .05 .05 .1 .05 .1 .1 .1 .15 .1 .15 .75 .15 .15 .2 .15 .2 .2 .2 .2 .25
.2 .25 .25 .25 .25 .3 .25 .3 .3 .3 .3 .3 .3 .3 .3 .3 .3 .3 .3 .3 .3 .3 .3
.5 .3 .35 .3 .3 .3 .35 .3 .3 .35 .3 .3 .35 .3 .3 .35 .35 .35 .6 .45 .6 .6 2.42
"""
H70_s5r85 = """
-7.09 -7.06 -7.00 -5.38 -5.05 -4.48 -4.30 -4.12 -3.52 -3.45 -3.30 -3.03 -2.98 -2.98 -2.82 -2.44 -2.35 -2.27 -2.18 -2.09 -1.90 -1.82 -1.73
-1.28 -1.25 -1.20 -1.15 -1.10 -1.02 -1.00 -0.95 -0.90 -0.86 -0.84 -0.80 -0.80 -0.79 -0.78 -0.75 -0.74 -0.70 -0.68 -0.63 -0.58 -0.52 -0.47
-0.42 -0.40 -0.36 -0.31 -0.29 -0.25 -0.24 -0.20 -0.19 -0.15 -0.14 -0.13 -0.10 -0.09 -0.08 -0.05 -0.04 0.00 0.01 0.02 0.05 0.06 0.07
0.10 0.12 0.13 0.15 0.17 0.18 0.20 0.22 0.23 0.25 0.27 0.28 0.30 0.32 0.34 0.36 0.38 0.39 0.40 0.42 0.44 0.45 0.46
0.48 0.50 0.51 0.52 0.54 0.55 0.56 0.58 0.60 0.62 0.63 0.65 0.67 0.70 0.73 0.77 0.82 0.87 0.92 0.96 1.00 1.06 1.10
1.25 1.37 1.39 1.52 1.61 1.61 1.66 1.79 1.81 1.90 2.02 2.11 2.15 2.15 2.18 2.18 2.20 2.26 2.29 2.33 2.51 3.54 5.09
"""

PANEL_DATA = {
    ("Low EU Investment Mobility", "2050"): [L50_s1r26, L50_s1r45, L50_s2r26, L50_s2r45, L50_s2r60, L50_s3r26, L50_s3r45, L50_s5r45, L50_s5r85],
    ("Low EU Investment Mobility", "2070"): [L70_s1r26, L70_s1r45, L70_s2r26, L70_s2r45, L70_s2r60, L70_s3r26, L70_s3r45, L70_s5r45, L70_s5r85],
    ("High EU Investment Mobility", "2050"): [H50_s1r26, H50_s1r45, H50_s2r26, H50_s2r45, H50_s2r60, H50_s3r26, H50_s3r45, H50_s5r45, H50_s5r85],
    ("High EU Investment Mobility", "2070"): [H70_s1r26, H70_s1r45, H70_s2r26, H70_s2r45, H70_s2r60, H70_s3r26, H70_s3r45, H70_s5r45, H70_s5r85],
}

rows = []
for (mob, yr), series in PANEL_DATA.items():
    for sc, txt in zip(SCENARIOS, series):
        v = [float(t) for t in txt.split()]
        if len(v) != len(REGIONS):
            raise ValueError(f"{mob} {yr} {sc}: {len(v)} values")
        for reg, val in zip(REGIONS, v):
            rows.append((mob, yr, sc, reg, val))
df = pd.DataFrame(rows, columns=["mobility", "year", "scenario", "region", "value"])

# ---------------- layout ----------------
W, H = 1128, 1528
fig = plt.figure(figsize=(W / 100, H / 100), dpi=100)


def frect(x0, y0, x1, y1):
    return [x0 / W, 1 - y1 / H, (x1 - x0) / W, (y1 - y0) / H]


def fx(x):
    return x / W


def fy(y):
    return 1 - y / H


PANEL_TOP, PANEL_BOT = 76, 1385
PANEL_X = [(100, 347.5), (358, 605.5), (617, 864.5), (875, 1122.5)]
palette = dict(zip(SCENARIOS, COLORS))
XLIM = (-7.70, 5.70)

k = 0
for mob in MOBILITY:
    for yr in YEARS:
        x0, x1 = PANEL_X[k]
        ax = fig.add_axes(frect(x0, PANEL_TOP, x1, PANEL_BOT))
        sub = df[(df.mobility == mob) & (df.year == yr)]
        ax.set_facecolor("#EBEBEB")
        ax.set_axisbelow(True)
        sns.scatterplot(data=sub, x="value", y="region", hue="scenario", hue_order=SCENARIOS,
                        palette=palette, marker="+", s=78, linewidth=1.5, legend=False,
                        ax=ax, zorder=3)
        ax.set_xlim(*XLIM)
        ax.set_ylim(len(REGIONS) - 0.4, -0.6)
        ax.set_xticks(X_TICKS)
        ax.set_xticklabels([f"{t:.1f}" for t in X_TICKS])
        ax.set_xticks([-6.25, -3.75, -1.25, 1.25, 3.75], minor=True)
        ax.grid(which="major", axis="x", color="white", lw=1.5)
        ax.grid(which="minor", axis="x", color="white", lw=0.75)
        ax.grid(which="major", axis="y", color="white", lw=1.2)
        for s in ax.spines.values():
            s.set_visible(False)
        ax.tick_params(axis="x", which="major", length=4, width=0.9, color="#333333",
                       labelsize=12, labelcolor="#4D4D4D", pad=2)
        ax.tick_params(axis="x", which="minor", length=0)
        if k == 0:
            ax.tick_params(axis="y", length=4, width=0.9, color="#333333",
                           labelsize=8.4, labelcolor="#1A1A1A", pad=1.5)
        else:
            ax.tick_params(axis="y", left=False, labelleft=False)
        ax.set_xlabel("")
        ax.set_ylabel("")
        # inner strip (year)
        fig.add_artist(Rectangle((fx(x0), fy(76)), (x1 - x0) / W, 33 / H,
                                 transform=fig.transFigure, facecolor="#D9D9D9", edgecolor="none"))
        fig.text(fx((x0 + x1) / 2), fy(59.5), yr, ha="center", va="center",
                 fontsize=12.5, color="#1A1A1A")
        k += 1
    # outer strip (mobility)
    ox0 = PANEL_X[0][0] if mob.startswith("Low") else PANEL_X[2][0]
    ox1 = PANEL_X[1][1] if mob.startswith("Low") else PANEL_X[3][1]
    fig.add_artist(Rectangle((fx(ox0), fy(42)), (ox1 - ox0) / W, 34 / H,
                             transform=fig.transFigure, facecolor="#D9D9D9", edgecolor="none"))
    fig.text(fx((ox0 + ox1) / 2), fy(25.5), mob, ha="center", va="center",
             fontsize=12.5, color="#1A1A1A")

fig.text(fx(611), fy(1423), "Percentage change from baseline", ha="center", va="center",
         fontsize=15.5, color="black")

# ---------------- legend ----------------
KEY = 34
fig.text(fx(218), fy(1485), "level", ha="left", va="center", fontsize=15.5, color="black")
fig.add_artist(Rectangle((fx(291 - KEY / 2), fy(1485 + KEY / 2)), KEY / W, KEY / H,
                         transform=fig.transFigure, facecolor="#F2F2F2", edgecolor="none"))
fig.add_artist(Line2D([fx(291)], [fy(1485)], marker="+", markersize=9, markeredgewidth=1.6,
                      color="black", linestyle="none", transform=fig.transFigure))
fig.text(fx(319), fy(1485), "Medium", ha="left", va="center", fontsize=12.5, color="#1A1A1A")

fig.text(fx(424), fy(1502), "scenario", ha="left", va="center", fontsize=15.5, color="black")
for i, (sc, col) in enumerate(zip(SCENARIOS, COLORS)):
    c, r = divmod(i, 2)
    cx = 534 + 99.7 * c
    cy = 1485 + 33.5 * r
    fig.add_artist(Rectangle((fx(cx - KEY / 2), fy(cy + 33.5 / 2)), KEY / W, 33.5 / H,
                             transform=fig.transFigure, facecolor="#F2F2F2", edgecolor="none"))
    fig.add_artist(Line2D([fx(cx)], [fy(cy)], marker="o", markersize=5.8, markeredgewidth=0,
                          color=col, linestyle="none", transform=fig.transFigure))
    fig.text(fx(cx + 27), fy(cy), sc, ha="left", va="center", fontsize=12.5, color="#1A1A1A")

fig.savefig("out.png", dpi=100, facecolor="white")
